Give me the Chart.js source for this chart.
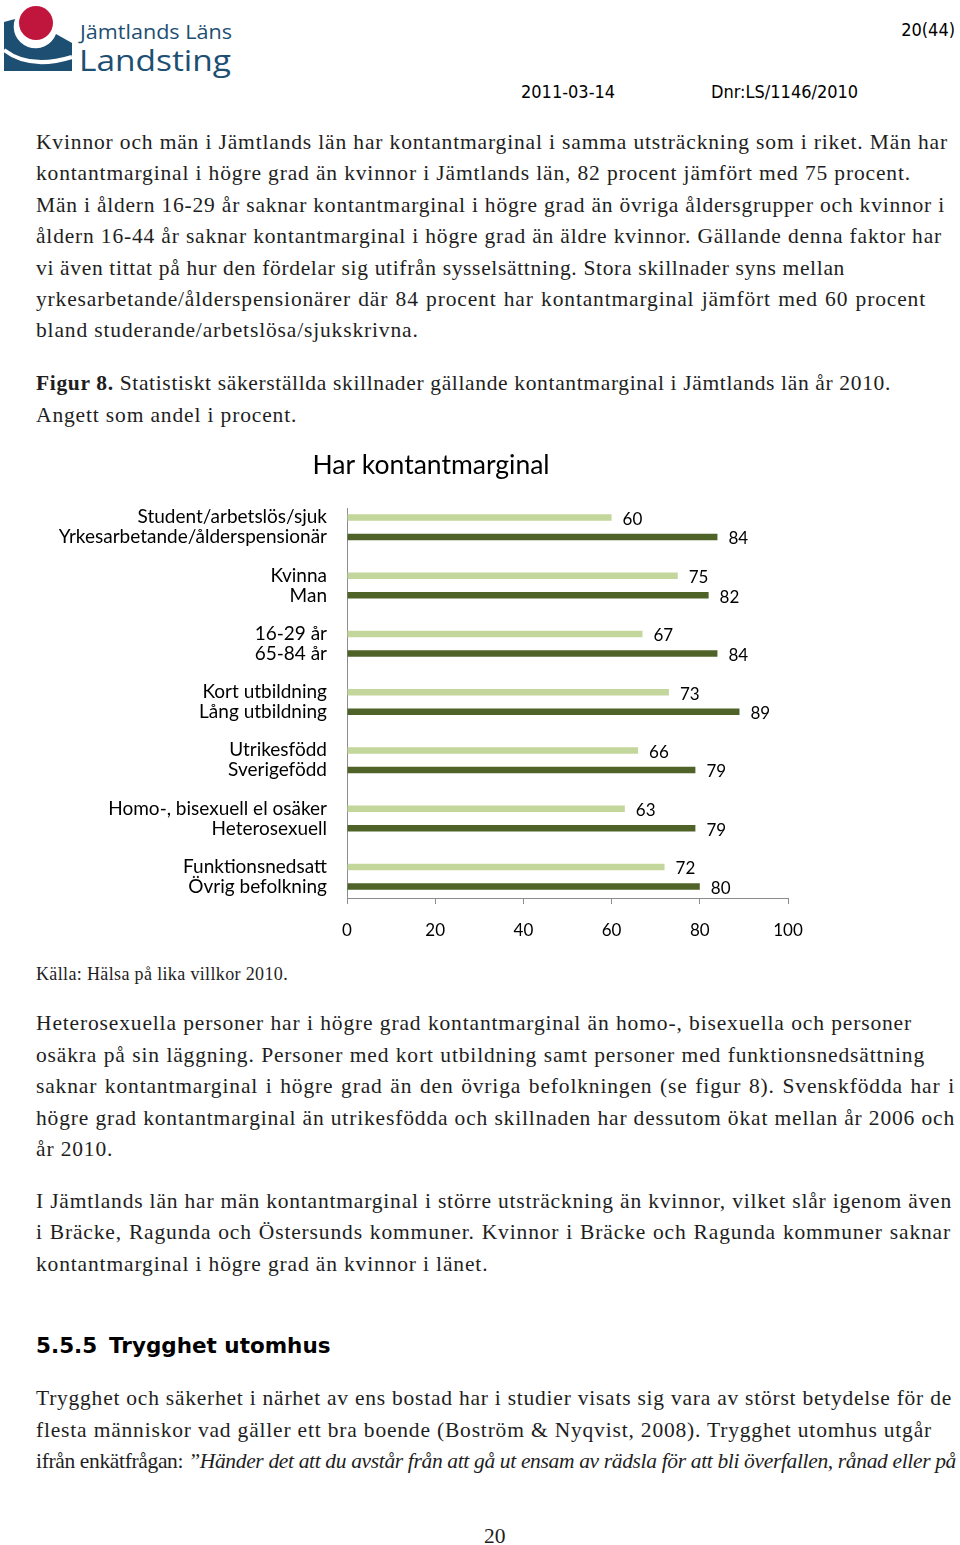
<!DOCTYPE html>
<html lang="sv">
<head>
<meta charset="utf-8">
<title>Har kontantmarginal</title>
<script src="https://cdn.jsdelivr.net/npm/chart.js@4.4.1/dist/chart.umd.min.js"></script>
<style>
  html, body { margin: 0; padding: 0; background: #fff; }
  body { position: relative; width: 960px; height: 1545px; overflow: hidden; color: #1e1e1e; font-family: "Liberation Serif", serif; }
  .ln { position: absolute; left: 36px; display: inline-block; white-space: nowrap; font-size: 21.5px; letter-spacing: 0.85px; line-height: 30px; }
  .hd { position: absolute; font-family: "DejaVu Sans Condensed", "DejaVu Sans", sans-serif; font-size: 18px; line-height: 24px; white-space: nowrap; color: #000; }
  .h3 { position: absolute; font-family: "DejaVu Sans", sans-serif; font-weight: bold; font-size: 21.5px; line-height: 28px; white-space: nowrap; color: #000; }
  #chart { position: absolute; left: 40px; top: 445px; }
</style>
</head>
<body>

<svg width="240" height="85" viewBox="0 0 240 85" style="position:absolute;left:0;top:0">
  <path d="M4,22 L15,19 A21,21 0 0 0 56,34 L72,43 L72,71 L4,71 Z" fill="#1d4f73"/>
  <path d="M4,50 Q30,70 72,57" stroke="#fff" stroke-width="4" fill="none"/>
  <circle cx="36" cy="23" r="17" fill="#c0163d"/>
  <text x="80" y="39" font-family="Open Sans" font-size="20" fill="#1d4f73" textLength="152" lengthAdjust="spacingAndGlyphs">Jämtlands Läns</text>
  <text x="79" y="71" font-family="Open Sans" font-size="30" fill="#1d4f73" textLength="152" lengthAdjust="spacingAndGlyphs">Landsting</text>
</svg>

<div class="hd" style="right:5px;top:18px">20(44)</div>
<div class="hd" style="left:521px;top:80px">2011-03-14</div>
<div class="hd" style="left:711px;top:80px">Dnr:LS/1146/2010</div>

<div class="ln" data-w="912" style="top:127px">Kvinnor och män i Jämtlands län har kontantmarginal i samma utsträckning som i riket. Män har</div>
<div class="ln" data-w="875" style="top:158px">kontantmarginal i högre grad än kvinnor i Jämtlands län, 82 procent jämfört med 75 procent.</div>
<div class="ln" data-w="909" style="top:190px">Män i åldern 16-29 år saknar kontantmarginal i högre grad än övriga åldersgrupper och kvinnor i</div>
<div class="ln" data-w="906" style="top:221px">åldern 16-44 år saknar kontantmarginal i högre grad än äldre kvinnor. Gällande denna faktor har</div>
<div class="ln" data-w="809" style="top:253px">vi även tittat på hur den fördelar sig utifrån sysselsättning. Stora skillnader syns mellan</div>
<div class="ln" data-w="890" style="top:284px">yrkesarbetande/ålderspensionärer där 84 procent har kontantmarginal jämfört med 60 procent</div>
<div class="ln" style="top:315px">bland studerande/arbetslösa/sjukskrivna.</div>

<div class="ln" data-w="855" style="top:368px"><b>Figur 8.</b> Statistiskt säkerställda skillnader gällande kontantmarginal i Jämtlands län år 2010.</div>
<div class="ln" style="top:400px">Angett som andel i procent.</div>

<canvas id="chart" width="782" height="505"></canvas>

<div class="ln" data-w="252" style="top:962px;font-size:18px;letter-spacing:0.6px;line-height:24px">Källa: Hälsa på lika villkor 2010.</div>

<div class="ln" data-w="876" style="top:1008px">Heterosexuella personer har i högre grad kontantmarginal än homo-, bisexuella och personer</div>
<div class="ln" data-w="889" style="top:1040px">osäkra på sin läggning. Personer med kort utbildning samt personer med funktionsnedsättning</div>
<div class="ln" data-w="919" style="top:1071px">saknar kontantmarginal i högre grad än den övriga befolkningen (se figur 8). Svenskfödda har i</div>
<div class="ln" data-w="919" style="top:1103px">högre grad kontantmarginal än utrikesfödda och skillnaden har dessutom ökat mellan år 2006 och</div>
<div class="ln" style="top:1134px">år 2010.</div>

<div class="ln" data-w="916" style="top:1186px">I Jämtlands län har män kontantmarginal i större utsträckning än kvinnor, vilket slår igenom även</div>
<div class="ln" data-w="915" style="top:1217px">i Bräcke, Ragunda och Östersunds kommuner. Kvinnor i Bräcke och Ragunda kommuner saknar</div>
<div class="ln" style="top:1249px">kontantmarginal i högre grad än kvinnor i länet.</div>

<div class="h3" style="left:36px;top:1332px">5.5.5</div>
<div class="h3" style="left:109px;top:1332px">Trygghet utomhus</div>

<div class="ln" data-w="916" style="top:1383px">Trygghet och säkerhet i närhet av ens bostad har i studier visats sig vara av störst betydelse för de</div>
<div class="ln" data-w="896" style="top:1415px">flesta människor vad gäller ett bra boende (Boström &amp; Nyqvist, 2008). Trygghet utomhus utgår</div>
<div class="ln" data-w="920" style="top:1446px">ifrån enkätfrågan: <i>”Händer det att du avstår från att gå ut ensam av rädsla för att bli överfallen, rånad eller på</i></div>

<div class="ln" style="top:1521px;left:484px;letter-spacing:0">20</div>

<script>
// Staplar: översta raden i varje etikett = ljus stapel, nedersta = mörk stapel
const topLabels = ["Student/arbetslös/sjuk", "Kvinna", "16-29 år", "Kort utbildning", "Utrikesfödd", "Homo-, bisexuell el osäker", "Funktionsnedsatt"];
const bottomLabels = ["Yrkesarbetande/ålderspensionär", "Man", "65-84 år", "Lång utbildning", "Sverigefödd", "Heterosexuell", "Övrig befolkning"];
const lightValues = [60, 75, 67, 73, 66, 63, 72];
const darkValues = [84, 82, 84, 89, 79, 79, 80];
const xTicks = [0, 20, 40, 60, 80, 100];

// fit the text lines to the widths they have on the page
document.querySelectorAll('.ln[data-w]').forEach(el => {
  const diff = +el.dataset.w - el.getBoundingClientRect().width;
  const spaces = (el.textContent.match(/ /g) || []).length;
  if (diff >= 0) {
    if (spaces) el.style.wordSpacing = (diff / spaces) + 'px';
  } else {
    const ls = parseFloat(getComputedStyle(el).letterSpacing) || 0;
    el.style.letterSpacing = (ls + diff / el.textContent.length) + 'px';
  }
});

// value labels to the right of each bar
const valueLabels = {
  id: 'valueLabels',
  afterDatasetsDraw(chart) {
    const ctx = chart.ctx;
    ctx.save();
    ctx.font = '17px Lato';
    ctx.fillStyle = '#000';
    ctx.textAlign = 'left';
    ctx.textBaseline = 'middle';
    chart.data.datasets.forEach((ds, i) => {
      chart.getDatasetMeta(i).data.forEach((bar, j) => {
        ctx.fillText(ds.data[j].x, bar.x + 11, bar.y + 2);
      });
    });
    ctx.restore();
  }
};

new Chart(document.getElementById('chart'), {
  type: 'bar',
  data: {
    datasets: [
      {
        data: lightValues.map((v, i) => ({ x: v, y: i })),
        backgroundColor: '#c3d69b',
        categoryPercentage: 0.67,
        barPercentage: 0.34
      },
      {
        data: darkValues.map((v, i) => ({ x: v, y: i })),
        backgroundColor: '#4f6228',
        categoryPercentage: 0.67,
        barPercentage: 0.34
      }
    ]
  },
  options: {
    indexAxis: 'y',
    responsive: false,
    animation: false,
    events: [],
    layout: { padding: 0 },
    plugins: {
      legend: { display: false },
      tooltip: { enabled: false },
      title: {
        display: true,
        text: 'Har kontantmarginal',
        color: '#000',
        font: { family: 'Lato', size: 26.5, weight: 'normal' },
        padding: { top: 5, bottom: 26.2 }
      }
    },
    scales: {
      x: {
        type: 'linear',
        min: 0,
        max: 100,
        afterBuildTicks: s => { s.ticks = xTicks.map(v => ({ value: v })); },
        afterFit: s => { s.height = 52; },
        ticks: { color: '#000', font: { family: 'Lato', size: 17 }, padding: 16, maxRotation: 0 },
        grid: { drawOnChartArea: false, drawTicks: true, tickLength: 6, color: '#8c8c8c' },
        border: { color: '#8c8c8c' }
      },
      y: {
        type: 'linear',
        reverse: true,
        offset: false,
        min: -0.33,
        max: 6.365,
        afterBuildTicks: s => { s.ticks = topLabels.map((_, i) => ({ value: i })); },
        afterFit: s => { s.width = 307; },
        ticks: {
          callback: v => [topLabels[v], bottomLabels[v]],
          color: '#000',
          font: { family: 'Lato', size: 19, lineHeight: 20 / 19 },
          padding: 20,
          autoSkip: false
        },
        grid: { display: false, drawTicks: false, tickLength: 0, offset: false },
        border: { color: '#8c8c8c' }
      },
      // empty right-hand space so the title stays centred over the page area
      yRight: {
        type: 'linear',
        position: 'right',
        afterFit: s => { s.width = 34; },
        ticks: { display: false },
        grid: { display: false, drawTicks: false },
        border: { display: false }
      }
    }
  },
  plugins: [valueLabels]
});
</script>
</body>
</html>
